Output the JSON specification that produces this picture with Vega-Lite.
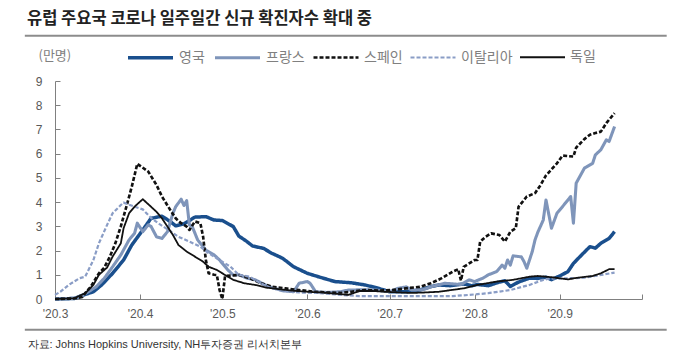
{
  "$schema": "https://vega.github.io/schema/vega-lite/v6.json",
  "width": 587,
  "height": 218,
  "autosize": {"type": "none"},
  "padding": {"left": 55, "top": 81, "right": 38, "bottom": 65},
  "background": "white",
  "title": {"text": "유럽 주요국 코로나 일주일간 신규 확진자수 확대 중", "anchor": "start", "frame": "group", "dx": -28, "offset": 6, "font": "Noto Sans CJK KR", "fontSize": 16.5, "fontWeight": "bold", "color": "#222222"},
  "config": {
    "view": {"stroke": null},
    "font": "Liberation Sans",
    "axis": {"labelOverlap": false, "grid": false, "domainColor": "#808080", "tickColor": "#808080", "labelColor": "#595959", "labelFontSize": 12},
    "axisY": {"tickCount": 10},
    "legend": {"orient": "none", "legendX": 71, "legendY": -48, "direction": "horizontal", "title": null, "symbolType": "stroke", "symbolSize": 2025, "labelFont": "Noto Sans CJK KR", "labelFontSize": 14, "labelColor": "#808080", "columnPadding": 3, "labelOffset": 4, "padding": 0}
  },
  "layer": [
    {
      "data": {"values": [
        {"c":"영국","d":"2020-03-01","v":0},{"c":"영국","d":"2020-03-08","v":0.02},{"c":"영국","d":"2020-03-11","v":0.15},{"c":"영국","d":"2020-03-15","v":0.3},{"c":"영국","d":"2020-03-18","v":0.58},{"c":"영국","d":"2020-03-22","v":1.06},{"c":"영국","d":"2020-03-26","v":1.61},{"c":"영국","d":"2020-03-29","v":2.23},{"c":"영국","d":"2020-04-02","v":2.85},{"c":"영국","d":"2020-04-05","v":3.33},{"c":"영국","d":"2020-04-09","v":3.42},{"c":"영국","d":"2020-04-12","v":3.2},{"c":"영국","d":"2020-04-14","v":3.02},{"c":"영국","d":"2020-04-17","v":3.1},{"c":"영국","d":"2020-04-21","v":3.38},{"c":"영국","d":"2020-04-25","v":3.4},{"c":"영국","d":"2020-04-28","v":3.26},{"c":"영국","d":"2020-05-01","v":3.24},{"c":"영국","d":"2020-05-05","v":2.99},{"c":"영국","d":"2020-05-07","v":2.6},{"c":"영국","d":"2020-05-10","v":2.37},{"c":"영국","d":"2020-05-12","v":2.19},{"c":"영국","d":"2020-05-16","v":2.09},{"c":"영국","d":"2020-05-19","v":1.89},{"c":"영국","d":"2020-05-23","v":1.68},{"c":"영국","d":"2020-05-27","v":1.33},{"c":"영국","d":"2020-06-01","v":1.06},{"c":"영국","d":"2020-06-05","v":0.92},{"c":"영국","d":"2020-06-11","v":0.72},{"c":"영국","d":"2020-06-17","v":0.67},{"c":"영국","d":"2020-06-22","v":0.58},{"c":"영국","d":"2020-06-27","v":0.44},{"c":"영국","d":"2020-07-01","v":0.3},{"c":"영국","d":"2020-07-07","v":0.3},{"c":"영국","d":"2020-07-12","v":0.37},{"c":"영국","d":"2020-07-16","v":0.51},{"c":"영국","d":"2020-07-19","v":0.58},{"c":"영국","d":"2020-07-23","v":0.55},{"c":"영국","d":"2020-07-28","v":0.62},{"c":"영국","d":"2020-07-31","v":0.55},{"c":"영국","d":"2020-08-02","v":0.6},{"c":"영국","d":"2020-08-06","v":0.55},{"c":"영국","d":"2020-08-10","v":0.7},{"c":"영국","d":"2020-08-12","v":0.75},{"c":"영국","d":"2020-08-14","v":0.52},{"c":"영국","d":"2020-08-17","v":0.7},{"c":"영국","d":"2020-08-21","v":0.86},{"c":"영국","d":"2020-08-24","v":0.85},{"c":"영국","d":"2020-08-27","v":0.9},{"c":"영국","d":"2020-08-29","v":0.8},{"c":"영국","d":"2020-09-01","v":0.95},{"c":"영국","d":"2020-09-04","v":1.13},{"c":"영국","d":"2020-09-06","v":1.47},{"c":"영국","d":"2020-09-09","v":1.82},{"c":"영국","d":"2020-09-12","v":2.16},{"c":"영국","d":"2020-09-14","v":2.1},{"c":"영국","d":"2020-09-16","v":2.3},{"c":"영국","d":"2020-09-19","v":2.5},{"c":"영국","d":"2020-09-21","v":2.78},
        {"c":"프랑스","d":"2020-03-01","v":0},{"c":"프랑스","d":"2020-03-08","v":0.03},{"c":"프랑스","d":"2020-03-11","v":0.15},{"c":"프랑스","d":"2020-03-16","v":0.5},{"c":"프랑스","d":"2020-03-19","v":0.86},{"c":"프랑스","d":"2020-03-22","v":1.33},{"c":"프랑스","d":"2020-03-25","v":1.82},{"c":"프랑스","d":"2020-03-28","v":2.44},{"c":"프랑스","d":"2020-03-30","v":2.71},{"c":"프랑스","d":"2020-03-31","v":3.13},{"c":"프랑스","d":"2020-04-02","v":2.78},{"c":"프랑스","d":"2020-04-04","v":3.06},{"c":"프랑스","d":"2020-04-05","v":3.0},{"c":"프랑스","d":"2020-04-07","v":2.57},{"c":"프랑스","d":"2020-04-09","v":2.5},{"c":"프랑스","d":"2020-04-11","v":2.78},{"c":"프랑스","d":"2020-04-13","v":3.54},{"c":"프랑스","d":"2020-04-14","v":3.81},{"c":"프랑스","d":"2020-04-16","v":4.12},{"c":"프랑스","d":"2020-04-17","v":3.86},{"c":"프랑스","d":"2020-04-18","v":4.06},{"c":"프랑스","d":"2020-04-19","v":3.06},{"c":"프랑스","d":"2020-04-20","v":3.0},{"c":"프랑스","d":"2020-04-22","v":2.44},{"c":"프랑스","d":"2020-04-24","v":2.16},{"c":"프랑스","d":"2020-04-25","v":2.02},{"c":"프랑스","d":"2020-04-28","v":1.82},{"c":"프랑스","d":"2020-04-30","v":1.61},{"c":"프랑스","d":"2020-05-03","v":1.2},{"c":"프랑스","d":"2020-05-05","v":0.99},{"c":"프랑스","d":"2020-05-07","v":1.0},{"c":"프랑스","d":"2020-05-10","v":0.86},{"c":"프랑스","d":"2020-05-13","v":0.79},{"c":"프랑스","d":"2020-05-18","v":0.51},{"c":"프랑스","d":"2020-05-23","v":0.34},{"c":"프랑스","d":"2020-05-27","v":0.3},{"c":"프랑스","d":"2020-05-29","v":0.65},{"c":"프랑스","d":"2020-06-01","v":0.72},{"c":"프랑스","d":"2020-06-02","v":0.65},{"c":"프랑스","d":"2020-06-04","v":0.3},{"c":"프랑스","d":"2020-06-08","v":0.27},{"c":"프랑스","d":"2020-06-13","v":0.3},{"c":"프랑스","d":"2020-06-16","v":0.37},{"c":"프랑스","d":"2020-06-21","v":0.38},{"c":"프랑스","d":"2020-06-26","v":0.37},{"c":"프랑스","d":"2020-07-01","v":0.3},{"c":"프랑스","d":"2020-07-04","v":0.44},{"c":"프랑스","d":"2020-07-07","v":0.5},{"c":"프랑스","d":"2020-07-09","v":0.37},{"c":"프랑스","d":"2020-07-13","v":0.38},{"c":"프랑스","d":"2020-07-16","v":0.5},{"c":"프랑스","d":"2020-07-21","v":0.65},{"c":"프랑스","d":"2020-07-27","v":0.6},{"c":"프랑스","d":"2020-07-30","v":0.79},{"c":"프랑스","d":"2020-08-01","v":0.72},{"c":"프랑스","d":"2020-08-04","v":0.86},{"c":"프랑스","d":"2020-08-06","v":1.0},{"c":"프랑스","d":"2020-08-09","v":1.13},{"c":"프랑스","d":"2020-08-11","v":1.4},{"c":"프랑스","d":"2020-08-12","v":1.27},{"c":"프랑스","d":"2020-08-13","v":1.61},{"c":"프랑스","d":"2020-08-14","v":1.4},{"c":"프랑스","d":"2020-08-15","v":1.78},{"c":"프랑스","d":"2020-08-18","v":1.74},{"c":"프랑스","d":"2020-08-19","v":1.54},{"c":"프랑스","d":"2020-08-20","v":1.27},{"c":"프랑스","d":"2020-08-22","v":1.96},{"c":"프랑스","d":"2020-08-23","v":2.44},{"c":"프랑스","d":"2020-08-24","v":2.75},{"c":"프랑스","d":"2020-08-26","v":3.26},{"c":"프랑스","d":"2020-08-27","v":4.09},{"c":"프랑스","d":"2020-08-29","v":2.92},{"c":"프랑스","d":"2020-08-31","v":3.54},{"c":"프랑스","d":"2020-09-02","v":3.81},{"c":"프랑스","d":"2020-09-05","v":4.23},{"c":"프랑스","d":"2020-09-06","v":3.13},{"c":"프랑스","d":"2020-09-07","v":4.78},{"c":"프랑스","d":"2020-09-10","v":5.4},{"c":"프랑스","d":"2020-09-13","v":5.6},{"c":"프랑스","d":"2020-09-14","v":5.95},{"c":"프랑스","d":"2020-09-16","v":6.16},{"c":"프랑스","d":"2020-09-18","v":6.57},{"c":"프랑스","d":"2020-09-19","v":6.5},{"c":"프랑스","d":"2020-09-21","v":7.12},
        {"c":"스페인","d":"2020-03-01","v":0},{"c":"스페인","d":"2020-03-08","v":0.02},{"c":"스페인","d":"2020-03-11","v":0.08},{"c":"스페인","d":"2020-03-12","v":0.24},{"c":"스페인","d":"2020-03-14","v":0.5},{"c":"스페인","d":"2020-03-17","v":1.06},{"c":"스페인","d":"2020-03-19","v":1.3},{"c":"스페인","d":"2020-03-21","v":1.75},{"c":"스페인","d":"2020-03-23","v":2.3},{"c":"스페인","d":"2020-03-25","v":3.0},{"c":"스페인","d":"2020-03-27","v":3.8},{"c":"스페인","d":"2020-03-29","v":4.64},{"c":"스페인","d":"2020-03-31","v":5.58},{"c":"스페인","d":"2020-04-04","v":5.26},{"c":"스페인","d":"2020-04-07","v":4.71},{"c":"스페인","d":"2020-04-09","v":4.23},{"c":"스페인","d":"2020-04-12","v":3.68},{"c":"스페인","d":"2020-04-14","v":3.33},{"c":"스페인","d":"2020-04-16","v":3.13},{"c":"스페인","d":"2020-04-18","v":2.99},{"c":"스페인","d":"2020-04-19","v":2.85},{"c":"스페인","d":"2020-04-21","v":3.2},{"c":"스페인","d":"2020-04-23","v":3.13},{"c":"스페인","d":"2020-04-24","v":2.57},{"c":"스페인","d":"2020-04-25","v":1.61},{"c":"스페인","d":"2020-04-26","v":1.06},{"c":"스페인","d":"2020-04-28","v":1.0},{"c":"스페인","d":"2020-04-29","v":0.99},{"c":"스페인","d":"2020-04-30","v":0.37},{"c":"스페인","d":"2020-05-01","v":0.0},{"c":"스페인","d":"2020-05-02","v":0.95},{"c":"스페인","d":"2020-05-07","v":0.99},{"c":"스페인","d":"2020-05-11","v":0.86},{"c":"스페인","d":"2020-05-15","v":0.65},{"c":"스페인","d":"2020-05-19","v":0.51},{"c":"스페인","d":"2020-05-24","v":0.44},{"c":"스페인","d":"2020-05-29","v":0.37},{"c":"스페인","d":"2020-06-03","v":0.3},{"c":"스페인","d":"2020-06-08","v":0.27},{"c":"스페인","d":"2020-06-13","v":0.25},{"c":"스페인","d":"2020-06-17","v":0.3},{"c":"스페인","d":"2020-06-22","v":0.37},{"c":"스페인","d":"2020-06-27","v":0.35},{"c":"스페인","d":"2020-07-02","v":0.37},{"c":"스페인","d":"2020-07-07","v":0.44},{"c":"스페인","d":"2020-07-12","v":0.5},{"c":"스페인","d":"2020-07-16","v":0.65},{"c":"스페인","d":"2020-07-20","v":0.86},{"c":"스페인","d":"2020-07-24","v":1.13},{"c":"스페인","d":"2020-07-26","v":1.23},{"c":"스페인","d":"2020-07-27","v":0.76},{"c":"스페인","d":"2020-07-28","v":1.33},{"c":"스페인","d":"2020-07-30","v":1.47},{"c":"스페인","d":"2020-08-01","v":1.61},{"c":"스페인","d":"2020-08-02","v":1.61},{"c":"스페인","d":"2020-08-03","v":2.37},{"c":"스페인","d":"2020-08-05","v":2.57},{"c":"스페인","d":"2020-08-07","v":2.71},{"c":"스페인","d":"2020-08-10","v":2.64},{"c":"스페인","d":"2020-08-12","v":2.37},{"c":"스페인","d":"2020-08-14","v":2.78},{"c":"스페인","d":"2020-08-16","v":2.92},{"c":"스페인","d":"2020-08-17","v":3.81},{"c":"스페인","d":"2020-08-20","v":4.23},{"c":"스페인","d":"2020-08-23","v":4.37},{"c":"스페인","d":"2020-08-25","v":4.7},{"c":"스페인","d":"2020-08-27","v":5.1},{"c":"스페인","d":"2020-08-29","v":5.35},{"c":"스페인","d":"2020-08-31","v":5.6},{"c":"스페인","d":"2020-09-02","v":5.92},{"c":"스페인","d":"2020-09-04","v":5.9},{"c":"스페인","d":"2020-09-06","v":5.88},{"c":"스페인","d":"2020-09-07","v":6.25},{"c":"스페인","d":"2020-09-10","v":6.6},{"c":"스페인","d":"2020-09-12","v":6.78},{"c":"스페인","d":"2020-09-14","v":6.85},{"c":"스페인","d":"2020-09-16","v":6.91},{"c":"스페인","d":"2020-09-18","v":7.26},{"c":"스페인","d":"2020-09-19","v":7.4},{"c":"스페인","d":"2020-09-21","v":7.67},
        {"c":"이탈리아","d":"2020-03-01","v":0.17},{"c":"이탈리아","d":"2020-03-03","v":0.3},{"c":"이탈리아","d":"2020-03-06","v":0.58},{"c":"이탈리아","d":"2020-03-10","v":0.86},{"c":"이탈리아","d":"2020-03-12","v":0.92},{"c":"이탈리아","d":"2020-03-15","v":1.61},{"c":"이탈리아","d":"2020-03-17","v":2.3},{"c":"이탈리아","d":"2020-03-20","v":3.06},{"c":"이탈리아","d":"2020-03-22","v":3.54},{"c":"이탈리아","d":"2020-03-25","v":3.88},{"c":"이탈리아","d":"2020-03-26","v":3.98},{"c":"이탈리아","d":"2020-03-30","v":3.81},{"c":"이탈리아","d":"2020-04-02","v":3.7},{"c":"이탈리아","d":"2020-04-05","v":3.35},{"c":"이탈리아","d":"2020-04-08","v":3.1},{"c":"이탈리아","d":"2020-04-12","v":2.8},{"c":"이탈리아","d":"2020-04-15","v":2.57},{"c":"이탈리아","d":"2020-04-19","v":2.37},{"c":"이탈리아","d":"2020-04-23","v":2.16},{"c":"이탈리아","d":"2020-04-26","v":1.89},{"c":"이탈리아","d":"2020-04-30","v":1.61},{"c":"이탈리아","d":"2020-05-04","v":1.33},{"c":"이탈리아","d":"2020-05-07","v":1.0},{"c":"이탈리아","d":"2020-05-11","v":0.92},{"c":"이탈리아","d":"2020-05-15","v":0.65},{"c":"이탈리아","d":"2020-05-19","v":0.44},{"c":"이탈리아","d":"2020-05-24","v":0.34},{"c":"이탈리아","d":"2020-05-29","v":0.27},{"c":"이탈리아","d":"2020-06-05","v":0.25},{"c":"이탈리아","d":"2020-06-13","v":0.17},{"c":"이탈리아","d":"2020-06-20","v":0.12},{"c":"이탈리아","d":"2020-07-01","v":0.12},{"c":"이탈리아","d":"2020-07-15","v":0.12},{"c":"이탈리아","d":"2020-07-24","v":0.12},{"c":"이탈리아","d":"2020-07-30","v":0.17},{"c":"이탈리아","d":"2020-08-06","v":0.24},{"c":"이탈리아","d":"2020-08-14","v":0.37},{"c":"이탈리아","d":"2020-08-21","v":0.58},{"c":"이탈리아","d":"2020-08-26","v":0.79},{"c":"이탈리아","d":"2020-08-28","v":0.84},{"c":"이탈리아","d":"2020-09-01","v":0.85},{"c":"이탈리아","d":"2020-09-06","v":0.86},{"c":"이탈리아","d":"2020-09-10","v":0.88},{"c":"이탈리아","d":"2020-09-14","v":0.95},{"c":"이탈리아","d":"2020-09-21","v":1.09},
        {"c":"독일","d":"2020-03-01","v":0},{"c":"독일","d":"2020-03-08","v":0.03},{"c":"독일","d":"2020-03-12","v":0.24},{"c":"독일","d":"2020-03-15","v":0.58},{"c":"독일","d":"2020-03-17","v":1.0},{"c":"독일","d":"2020-03-20","v":1.3},{"c":"독일","d":"2020-03-22","v":1.75},{"c":"독일","d":"2020-03-25","v":2.3},{"c":"독일","d":"2020-03-26","v":2.92},{"c":"독일","d":"2020-03-28","v":3.54},{"c":"독일","d":"2020-03-30","v":3.81},{"c":"독일","d":"2020-04-01","v":4.02},{"c":"독일","d":"2020-04-02","v":4.12},{"c":"독일","d":"2020-04-05","v":3.81},{"c":"독일","d":"2020-04-07","v":3.6},{"c":"독일","d":"2020-04-09","v":3.33},{"c":"독일","d":"2020-04-11","v":2.99},{"c":"독일","d":"2020-04-13","v":2.64},{"c":"독일","d":"2020-04-15","v":2.23},{"c":"독일","d":"2020-04-18","v":1.96},{"c":"독일","d":"2020-04-21","v":1.75},{"c":"독일","d":"2020-04-24","v":1.54},{"c":"독일","d":"2020-04-26","v":1.33},{"c":"독일","d":"2020-04-29","v":1.2},{"c":"독일","d":"2020-05-01","v":1.06},{"c":"독일","d":"2020-05-05","v":0.79},{"c":"독일","d":"2020-05-09","v":0.65},{"c":"독일","d":"2020-05-13","v":0.58},{"c":"독일","d":"2020-05-17","v":0.47},{"c":"독일","d":"2020-05-22","v":0.4},{"c":"독일","d":"2020-05-27","v":0.34},{"c":"독일","d":"2020-06-01","v":0.3},{"c":"독일","d":"2020-06-06","v":0.27},{"c":"독일","d":"2020-06-13","v":0.2},{"c":"독일","d":"2020-06-16","v":0.17},{"c":"독일","d":"2020-06-20","v":0.33},{"c":"독일","d":"2020-06-25","v":0.33},{"c":"독일","d":"2020-06-29","v":0.3},{"c":"독일","d":"2020-07-05","v":0.27},{"c":"독일","d":"2020-07-09","v":0.25},{"c":"독일","d":"2020-07-14","v":0.27},{"c":"독일","d":"2020-07-19","v":0.3},{"c":"독일","d":"2020-07-28","v":0.44},{"c":"독일","d":"2020-08-02","v":0.58},{"c":"독일","d":"2020-08-09","v":0.72},{"c":"독일","d":"2020-08-15","v":0.79},{"c":"독일","d":"2020-08-21","v":0.92},{"c":"독일","d":"2020-08-24","v":0.95},{"c":"독일","d":"2020-08-29","v":0.9},{"c":"독일","d":"2020-09-04","v":0.81},{"c":"독일","d":"2020-09-07","v":0.87},{"c":"독일","d":"2020-09-13","v":0.95},{"c":"독일","d":"2020-09-16","v":1.06},{"c":"독일","d":"2020-09-19","v":1.23},{"c":"독일","d":"2020-09-21","v":1.23}
      ]},
      "mark": {"type": "line", "strokeJoin": "round"},
      "encoding": {
        "x": {"field": "d", "type": "temporal",
          "scale": {"domain": [{"year": 2020, "month": 3, "date": 1}, {"year": 2020, "month": 10, "date": 1}]},
          "axis": {"title": "자료: Johns Hopkins University, NH투자증권 리서치본부", "titleAnchor": "start", "titleAlign": "left", "titleX": -28, "titleY": 45, "titleBaseline": "middle", "titleFont": "Liberation Sans", "titleFontSize": 11, "titleFontWeight": "normal", "titleColor": "#333333",
            "format": "'%y.%-m", "tickCount": {"interval": "month", "step": 1}, "labelExpr": "month(datum.value) == 9 ? '' : datum.label",
            "tickSize": -5, "labelPadding": 14, "labelFlush": false}},
        "y": {"field": "v", "type": "quantitative",
          "scale": {"domain": [0, 9], "nice": false},
          "axis": {"title": "(만명)", "titleAngle": 0, "titleX": -17, "titleY": -26, "titleAlign": "left", "titleBaseline": "middle", "titleFont": "Noto Sans CJK KR", "titleFontSize": 13, "titleFontWeight": "normal", "titleColor": "#808080",
            "values": [0, 1, 2, 3, 4, 5, 6, 7, 8, 9], "tickCount": 10, "tickSize": -5, "labelPadding": 18}},
        "color": {"field": "c", "type": "nominal", "sort": null,
          "scale": {"domain": ["영국", "프랑스", "스페인", "이탈리아", "독일"], "range": ["#1a4f8d", "#7f95ba", "#111111", "#8a9dc6", "#111111"]}},
        "strokeDash": {"field": "c", "type": "nominal", "sort": null,
          "scale": {"domain": ["영국", "프랑스", "스페인", "이탈리아", "독일"], "range": [[1, 0], [1, 0], [4, 2], [4, 2], [1, 0]]}},
        "strokeWidth": {"field": "c", "type": "nominal", "sort": null,
          "scale": {"domain": ["영국", "프랑스", "스페인", "이탈리아", "독일"], "range": [3.5, 1.8, 1.5, 1.6, 1.8]}}
      }
    },
    {
      "data": {"values": [{"edge": "top"}]},
      "mark": {"type": "rule", "color": "#8c8c8c", "strokeWidth": 2, "clip": false},
      "encoding": {
        "x": {"datum": {"year": 2020, "month": 2, "date": 19}, "type": "temporal"},
        "x2": {"datum": {"year": 2020, "month": 10, "date": 10}},
        "y": {"datum": 10.87, "type": "quantitative"}
      }
    },
    {
      "data": {"values": [{"edge": "bottom"}]},
      "mark": {"type": "rule", "color": "#8c8c8c", "strokeWidth": 2, "clip": false},
      "encoding": {
        "x": {"datum": {"year": 2020, "month": 2, "date": 19}, "type": "temporal"},
        "x2": {"datum": {"year": 2020, "month": 10, "date": 10}},
        "y": {"datum": -1.27, "type": "quantitative"}
      }
    }
  ]
}
